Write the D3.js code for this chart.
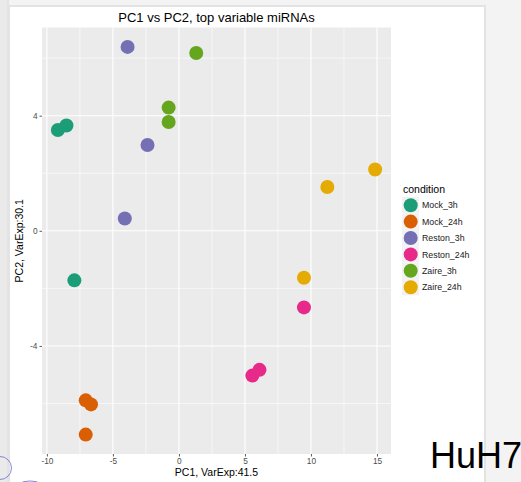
<!DOCTYPE html>
<html lang="en-US">
<head>
<meta charset="utf-8">
<script src="https://d3js.org/d3.v7.min.js"></script>
<style>
  body { margin: 0; background: #f3f3f3; font-family: 'Liberation Sans', Arial, sans-serif; }
  svg { display: block; }
  .tick-label { font-size: 8.3px; fill: #4d4d4d; }
  .axis-title { font-size: 10.5px; fill: #000; }
  .legend-label { font-size: 8.8px; fill: #1a1a1a; }
</style>
</head>
<body>
<svg id="chart" width="521" height="482"></svg>
<script>
// condition groups and colours (Dark2)
const conditions = ['Mock_3h', 'Mock_24h', 'Reston_3h', 'Reston_24h', 'Zaire_3h', 'Zaire_24h'];
const colors = ['#1B9E77', '#D95F02', '#7570B3', '#E7298A', '#66A61E', '#E6AB02'];

// one entry per sample
const sampleCondition = ['Mock_3h', 'Mock_3h', 'Mock_3h',
  'Mock_24h', 'Mock_24h', 'Mock_24h',
  'Reston_3h', 'Reston_3h', 'Reston_3h',
  'Reston_24h', 'Reston_24h', 'Reston_24h',
  'Zaire_3h', 'Zaire_3h', 'Zaire_3h',
  'Zaire_24h', 'Zaire_24h', 'Zaire_24h'];
const pc1 = [-9.17, -8.52, -7.92, -7.06, -6.66, -7.06, -3.89, -2.38, -4.10,
  9.47, 5.56, 6.10, 1.31, -0.78, -0.78, 14.86, 11.24, 9.47];
const pc2 = [3.50, 3.66, -1.72, -5.89, -6.03, -7.08, 6.39, 2.98, 0.43,
  -2.66, -5.03, -4.83, 6.18, 4.28, 3.78, 2.13, 1.52, -1.63];

const xTicks = [-10, -5, 0, 5, 10, 15];
const yTicks = [-4, 0, 4];
const xMinor = [-7.5, -2.5, 2.5, 7.5, 12.5];
const yMinor = [-6, -2, 2, 6];

const svg = d3.select('#chart');

// slide background bits
svg.append('rect').attr('x', 0).attr('y', 0).attr('width', 9).attr('height', 482).attr('fill', '#eaeaea');
svg.append('line').attr('x1', 8).attr('x2', 8).attr('y1', 0).attr('y2', 482).attr('stroke', '#dcdcdc');
svg.append('rect').attr('x', 9).attr('y', 6).attr('width', 476).attr('height', 480)
  .attr('fill', '#fff').attr('stroke', '#e3e3e3').attr('stroke-width', 2);

// panel geometry
const pLeft = 42, pRight = 391, pTop = 27.5, pBottom = 454;

const expand = (ext) => {
  const pad = (ext[1] - ext[0]) * 0.05;
  return [ext[0] - pad, ext[1] + pad];
};
const x = d3.scaleLinear().domain(expand(d3.extent(pc1))).range([pLeft, pRight]);
const y = d3.scaleLinear().domain(expand(d3.extent(pc2))).range([pBottom, pTop]);
const color = d3.scaleOrdinal().domain(conditions).range(colors);

svg.append('rect').attr('x', pLeft).attr('y', pTop)
  .attr('width', pRight - pLeft).attr('height', pBottom - pTop).attr('fill', '#ebebeb');

const grid = svg.append('g');
grid.selectAll('.vminor').data(xMinor).join('line')
  .attr('x1', d => x(d)).attr('x2', d => x(d)).attr('y1', pTop).attr('y2', pBottom)
  .attr('stroke', '#fff').attr('stroke-width', 0.6);
grid.selectAll('.hminor').data(yMinor).join('line')
  .attr('y1', d => y(d)).attr('y2', d => y(d)).attr('x1', pLeft).attr('x2', pRight)
  .attr('stroke', '#fff').attr('stroke-width', 0.6);
grid.selectAll('.vmajor').data(xTicks).join('line')
  .attr('x1', d => x(d)).attr('x2', d => x(d)).attr('y1', pTop).attr('y2', pBottom)
  .attr('stroke', '#fff').attr('stroke-width', 1.1);
grid.selectAll('.hmajor').data(yTicks).join('line')
  .attr('y1', d => y(d)).attr('y2', d => y(d)).attr('x1', pLeft).attr('x2', pRight)
  .attr('stroke', '#fff').attr('stroke-width', 1.1);

// axes
const xAxis = svg.append('g').attr('transform', `translate(0,${pBottom})`)
  .call(d3.axisBottom(x).tickValues(xTicks).tickSize(2.5).tickPadding(2).tickFormat(d => String(d)));
const yAxis = svg.append('g').attr('transform', `translate(${pLeft},0)`)
  .call(d3.axisLeft(y).tickValues(yTicks).tickSize(2.5).tickPadding(2).tickFormat(d => String(d)));
[xAxis, yAxis].forEach(a => {
  a.select('.domain').remove();
  a.selectAll('.tick line').attr('stroke', '#333').attr('stroke-width', 0.8);
  a.selectAll('.tick text').attr('class', 'tick-label').attr('font-family', null).attr('font-size', null).attr('fill', null);
});

// points
svg.append('g').selectAll('circle')
  .data(pc1.map((v, i) => ({ x: v, y: pc2[i], c: sampleCondition[i] })))
  .join('circle')
  .attr('cx', d => x(d.x)).attr('cy', d => y(d.y)).attr('r', 7)
  .attr('fill', d => color(d.c));

// titles
svg.append('text').attr('x', (pLeft + pRight) / 2).attr('y', 22)
  .attr('text-anchor', 'middle').attr('font-size', 13).text('PC1 vs PC2, top variable miRNAs');
svg.append('text').attr('class', 'axis-title').attr('x', (pLeft + pRight) / 2).attr('y', 476)
  .attr('text-anchor', 'middle').text('PC1, VarExp:41.5');
svg.append('text').attr('class', 'axis-title')
  .attr('transform', `translate(23,${(pTop + pBottom) / 2}) rotate(-90)`)
  .attr('text-anchor', 'middle').text('PC2, VarExp:30.1');

// legend
const legend = svg.append('g').attr('transform', 'translate(402,0)');
legend.append('text').attr('x', 1).attr('y', 193).attr('font-size', 10.5).text('condition');
const keys = legend.selectAll('.key').data(conditions).join('g')
  .attr('transform', (d, i) => `translate(0,${197 + i * 16.4})`);
keys.append('rect').attr('width', 17).attr('height', 16.4).attr('fill', '#f2f2f2');
keys.append('circle').attr('cx', 8.7).attr('cy', 8.2).attr('r', 7).attr('fill', d => color(d));
keys.append('text').attr('class', 'legend-label').attr('x', 20).attr('y', 11.4).text(d => d);

// slide label
svg.append('text').attr('x', 430).attr('y', 468).attr('font-size', 36).attr('fill', '#000').text('HuH7');

// pen marks at bottom left
svg.append('circle').attr('cx', 0).attr('cy', 468).attr('r', 11.5)
  .attr('fill', 'none').attr('stroke', '#6a6ad0').attr('stroke-width', 0.8);
svg.append('ellipse').attr('cx', 30).attr('cy', 490).attr('rx', 16).attr('ry', 9)
  .attr('fill', 'none').attr('stroke', '#6a6ad0').attr('stroke-width', 0.8);
</script>
</body>
</html>
